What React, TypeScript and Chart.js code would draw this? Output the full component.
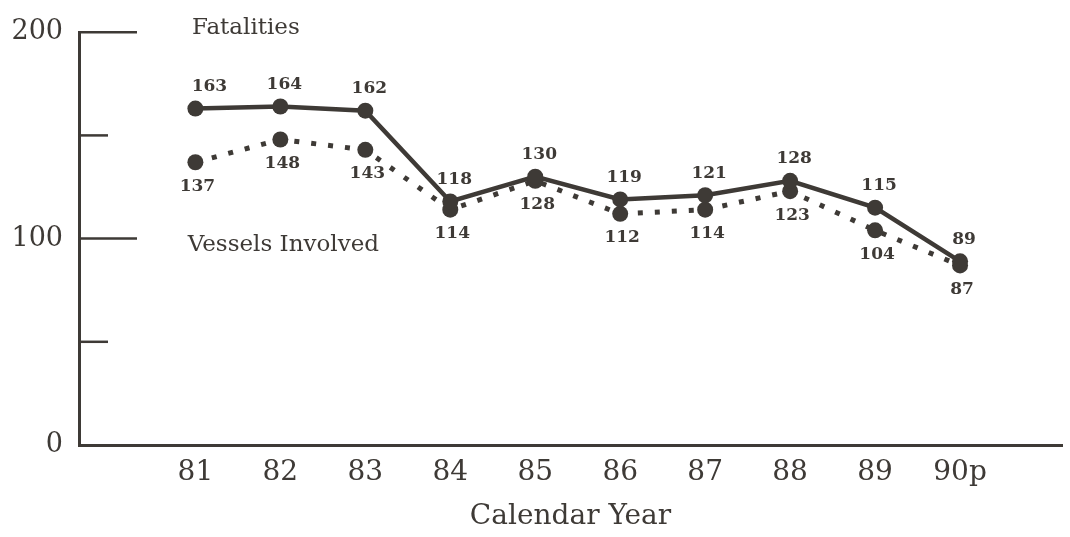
import React, { useEffect, useRef } from "react";
import { Chart, registerables } from "chart.js";

Chart.register(...registerables);

const years = ["81", "82", "83", "84", "85", "86", "87", "88", "89", "90p"];
const fatalities = [163, 164, 162, 118, 130, 119, 121, 128, 115, 89];
const vessels = [137, 148, 143, 114, 128, 112, 114, 123, 104, 87];
const seriesNames = ["Fatalities", "Vessels Involved"];
const yTickValues = [0, 50, 100, 150, 200];
const xTitle = "Calendar Year";

const INK = "#3e3a36";
const FONT = "'DejaVu Serif', 'Liberation Serif', serif";

export default function App() {
  const ref = useRef<HTMLCanvasElement | null>(null);

  useEffect(() => {
    document.body.style.margin = "0";
    const canvas = ref.current;
    if (!canvas) return;

    const annotPlugin = {
      id: "annot",
      afterDraw(chart: any) {
        const ctx = chart.ctx;
        const ys = chart.scales.y;
        const xs = chart.scales.x;
        ctx.save();
        // inner tick marks
        ctx.strokeStyle = INK;
        ctx.lineWidth = 2.5;
        const left = ys.right;
        yTickValues.forEach((v) => {
          if (v === 0) return;
          const y = ys.getPixelForValue(v);
          const len = v % 100 === 0 ? 58 : 29;
          ctx.beginPath();
          ctx.moveTo(left - 1, y);
          ctx.lineTo(left + len, y);
          ctx.stroke();
        });
        // data labels
        ctx.fillStyle = INK;
        ctx.textAlign = "center";
        ctx.textBaseline = "middle";
        ctx.font = `bold 17px ${FONT}`;
        const m0 = chart.getDatasetMeta(0);
        const m1 = chart.getDatasetMeta(1);
        m0.data.forEach((pt: any, i: number) => {
          ctx.fillText(String(fatalities[i]), pt.x + (i === 0 ? 14 : 4), pt.y - 22);
        });
        m1.data.forEach((pt: any, i: number) => {
          ctx.fillText(String(vessels[i]), pt.x + 2, pt.y + 24);
        });
        // series names
        ctx.textAlign = "left";
        ctx.font = `23px ${FONT}`;
        ctx.fillText(seriesNames[0], xs.getPixelForValue(-0.04), ys.getPixelForValue(202));
        ctx.fillText(seriesNames[1], xs.getPixelForValue(-0.09), ys.getPixelForValue(97));
        ctx.restore();
      },
    };

    const chart = new Chart(canvas, {
      type: "line",
      data: {
        datasets: [
          {
            label: seriesNames[0],
            data: fatalities.map((v, i) => ({ x: i, y: v })),
            borderColor: INK,
            backgroundColor: INK,
            borderWidth: 4.5,
            pointRadius: 8,
            pointBackgroundColor: INK,
            pointBorderWidth: 0,
            tension: 0,
          },
          {
            label: seriesNames[1],
            data: vessels.map((v, i) => ({ x: i, y: v })),
            borderColor: INK,
            backgroundColor: INK,
            borderWidth: 5,
            borderDash: [5, 12],
            borderCapStyle: "butt",
            pointRadius: 8,
            pointBackgroundColor: INK,
            pointBorderWidth: 0,
            tension: 0,
          },
        ],
      },
      options: {
        responsive: false,
        animation: false,
        layout: { padding: { top: 27, right: 5, left: 0, bottom: 0 } },
        plugins: { legend: { display: false }, tooltip: { enabled: false } },
        scales: {
          x: {
            type: "linear",
            min: -1.37,
            max: 10.2,
            afterBuildTicks: (scale: any) => {
              scale.ticks = years.map((_, i) => ({ value: i }));
            },
            afterFit: (scale: any) => {
              scale.height = 92;
            },
            grid: { display: false, drawTicks: false },
            border: { display: true, color: INK, width: 3 },
            ticks: {
              color: INK,
              padding: 11,
              font: { family: FONT, size: 28 },
              autoSkip: false,
              maxRotation: 0,
              callback: (v: any) => years[v] ?? "",
            },
            title: {
              display: true,
              text: xTitle,
              color: INK,
              font: { family: FONT, size: 28 },
              padding: { top: 0, bottom: 3 },
            },
          },
          y: {
            min: 0,
            max: 200,
            afterBuildTicks: (scale: any) => {
              scale.ticks = yTickValues.map((v) => ({ value: v }));
            },
            afterFit: (scale: any) => {
              scale.width = 79;
            },
            grid: { display: false, drawTicks: false },
            border: { display: true, color: INK, width: 3 },
            ticks: {
              color: INK,
              padding: 16,
              font: { family: FONT, size: 27 },
              callback: (v: any) => (v % 100 === 0 ? String(v) : ""),
            },
          },
        },
      },
      plugins: [annotPlugin],
    } as any);

    return () => chart.destroy();
  }, []);

  return (
    <div style={{ width: 1070, height: 537, background: "#fff" }}>
      <canvas ref={ref} width={1070} height={537} />
    </div>
  );
}
